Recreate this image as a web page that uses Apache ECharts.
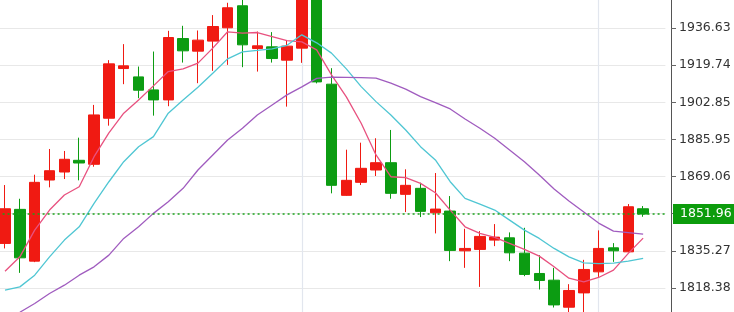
<!DOCTYPE html>
<html><head><meta charset="utf-8">
<script src="https://cdn.jsdelivr.net/npm/echarts@6/dist/echarts.min.js"></script>
<style>html,body{margin:0;padding:0;background:#fff;overflow:hidden}#c{width:734px;height:312px}</style>
</head><body><div id="c"></div>
<script>
const categories = ['1','2','3','4','5','6','7','8','9','10','11','12','13','14','15','16','17','18','19','20','21','22','23','24','25','26','27','28','29','30','31','32','33','34','35','36','37','38','39','40','41','42','43','44','45'];

// [open, close, low, high]
const candles = [
  [1838.62, 1854.40, 1836.34, 1865.20],
  [1854.12, 1832.06, 1825.22, 1858.95],
  [1830.55, 1866.43, 1830.10, 1869.90],
  [1867.48, 1871.72, 1864.15, 1881.61],
  [1871.13, 1876.92, 1867.93, 1880.70],
  [1876.46, 1875.23, 1867.34, 1886.76],
  [1874.64, 1897.11, 1873.54, 1901.67],
  [1895.61, 1920.36, 1892.23, 1922.05],
  [1918.22, 1919.45, 1911.11, 1929.34],
  [1914.43, 1908.37, 1904.72, 1919.13],
  [1908.51, 1903.95, 1896.79, 1925.97],
  [1903.95, 1932.35, 1901.08, 1935.40],
  [1931.89, 1926.29, 1920.95, 1937.68],
  [1926.15, 1931.16, 1911.56, 1935.54],
  [1930.71, 1937.36, 1917.17, 1942.56],
  [1936.77, 1945.89, 1919.90, 1948.17],
  [1946.80, 1929.02, 1918.85, 1950.00],
  [1927.33, 1928.57, 1916.85, 1935.09],
  [1928.11, 1922.78, 1920.95, 1934.81],
  [1922.05, 1928.43, 1900.89, 1930.98],
  [1927.52, 1951.40, 1920.82, 1953.00],
  [1951.00, 1912.15, 1911.47, 1952.50],
  [1911.11, 1865.06, 1861.42, 1918.40],
  [1860.50, 1867.34, 1860.30, 1881.29],
  [1866.43, 1872.81, 1865.20, 1884.48],
  [1872.04, 1875.37, 1869.30, 1886.49],
  [1875.37, 1861.42, 1858.95, 1890.27],
  [1860.96, 1865.06, 1852.89, 1872.36],
  [1863.70, 1853.21, 1850.61, 1866.25],
  [1852.57, 1854.26, 1843.18, 1870.67],
  [1853.35, 1835.43, 1830.55, 1860.18],
  [1835.25, 1836.34, 1827.50, 1845.28],
  [1835.89, 1841.81, 1818.84, 1844.23],
  [1840.13, 1841.49, 1837.39, 1847.42],
  [1841.17, 1834.34, 1830.55, 1843.64],
  [1834.20, 1824.49, 1823.71, 1845.73],
  [1824.94, 1821.75, 1817.65, 1833.29],
  [1821.89, 1810.63, 1809.45, 1827.50],
  [1809.58, 1817.20, 1806.00, 1820.07],
  [1816.10, 1826.77, 1804.00, 1831.15],
  [1825.68, 1836.34, 1823.39, 1844.55],
  [1836.62, 1835.25, 1830.23, 1838.76],
  [1834.79, 1855.31, 1834.60, 1856.54],
  [1854.40, 1851.96, 1850.75, 1855.63]
];

const maFast = [1825.99,1832.52,1844.69,1853.80,1860.64,1864.43,1878.10,1888.91,1897.89,1903.95,1910.33,1916.85,1918.08,1920.68,1927.52,1934.95,1934.36,1934.63,1932.80,1930.98,1930.39,1926.74,1915.35,1905.32,1893.33,1878.88,1868.98,1868.53,1865.97,1861.69,1853.80,1846.19,1843.18,1841.36,1838.62,1835.89,1832.83,1827.96,1822.80,1821.12,1823.12,1826.45,1834.07,1841.04];
const maMid = [1817.33,1818.84,1824.17,1832.52,1840.13,1846.19,1856.86,1866.70,1875.82,1882.66,1887.22,1897.89,1903.95,1909.74,1916.12,1922.64,1925.83,1926.51,1927.20,1928.79,1933.58,1929.93,1925.24,1918.08,1910.01,1903.17,1897.11,1890.27,1882.66,1876.60,1866.70,1859.14,1856.54,1853.80,1849.24,1844.69,1840.90,1836.34,1832.52,1829.78,1829.41,1829.64,1830.55,1831.78];
const maSlow = [1803.34,1807.30,1811.27,1815.83,1819.61,1824.17,1827.96,1833.29,1840.90,1846.19,1852.30,1857.59,1863.70,1872.04,1878.88,1885.72,1891.05,1897.11,1901.67,1906.23,1909.87,1913.75,1914.30,1914.21,1914.11,1913.84,1911.56,1908.83,1905.45,1902.72,1899.85,1895.29,1891.05,1886.49,1881.16,1875.82,1869.76,1863.38,1857.91,1852.89,1847.88,1844.23,1843.54,1842.86];

const lastPrice = 1851.96;
const axisMin = 1801.4855;
const axisInterval = 16.8935;
const axisMax = 1953.527;
const hiddenTick = 1852.17;

const chart = echarts.init(document.getElementById('c'), null, {renderer: 'canvas'});
chart.setOption({
  animation: false,
  backgroundColor: '#ffffff',
  grid: {left: -2.4, right: 68.6, top: -9, bottom: -13, containLabel: false, outerBoundsMode: 'none'},
  xAxis: {
    type: 'category', data: categories, boundaryGap: true,
    axisLine: {show: false}, axisTick: {show: false}, axisLabel: {show: false},
    splitLine: {show: true, alignWithLabel: true, interval: function (i) { return i === 20 || i === 40; },
      lineStyle: {color: '#e2e6ee', width: 1.2}}
  },
  yAxis: {
    type: 'value', position: 'right', offset: 5.6, scale: true,
    min: axisMin, max: axisMax, interval: axisInterval,
    axisLine: {show: true, lineStyle: {color: '#555555', width: 1}},
    axisTick: {show: true, length: 5, lineStyle: {color: '#666666'}},
    axisLabel: {margin: 8, color: '#333333', fontFamily: 'DejaVu Sans', fontSize: 12.5,
      formatter: function (v) { const s = v.toFixed(2); return Math.abs(v - hiddenTick) < 0.02 ? '' : s; }},
    splitLine: {show: true, lineStyle: {color: '#e8e8e8', width: 1.2}}
  },
  series: [
    {
      type: 'candlestick', data: candles, barWidth: 11,
      itemStyle: {color: '#f01a12', color0: '#0c9c12', borderColor: '#f01a12', borderColor0: '#0c9c12', borderWidth: 1},
      markLine: {
        silent: true, symbol: 'none',
        data: [{yAxis: lastPrice}],
        lineStyle: {color: '#1aa21a', type: [2, 3], width: 1.5},
        label: {position: 'end', distance: 7.6, formatter: lastPrice.toFixed(2), backgroundColor: '#0c9c0c',
          color: '#ffffff', fontFamily: 'DejaVu Sans', fontSize: 12.5, lineHeight: 14, padding: [3, 6, 3, 7]}
      }
    },
    {type: 'line', data: maFast, symbol: 'none', lineStyle: {color: '#e8517f', width: 1.3}, z: 3},
    {type: 'line', data: maMid, symbol: 'none', lineStyle: {color: '#4fc6d3', width: 1.3}, z: 3},
    {type: 'line', data: maSlow, symbol: 'none', lineStyle: {color: '#a05cbf', width: 1.3}, z: 3}
  ]
});
</script></body></html>
